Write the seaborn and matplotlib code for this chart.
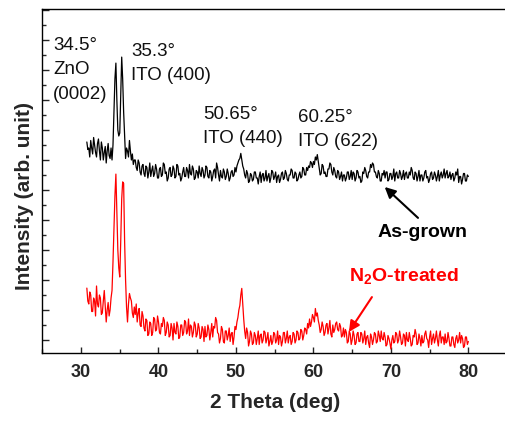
import numpy as np
import pandas as pd
import matplotlib
matplotlib.use("Agg")
import matplotlib.pyplot as plt
from matplotlib.ticker import MultipleLocator
import seaborn as sns

# 2-theta scan grid (deg) and intensities (arb. counts)
two_theta = np.arange(30.75, 80.001, 0.125)

as_grown = [
    660, 635,
    640, 610, 665, 640, 620, 675, 650, 625,   # 31
    610, 655, 670, 630, 600, 660, 640, 600,   # 32
    625, 645, 590, 630, 655, 615, 605, 640,   # 33
    600, 650, 760, 870, 923, 800, 700, 680,   # 34
    690, 820, 943, 870, 760, 680, 605, 640,   # 35
    630, 610, 665, 630, 600, 620, 585, 600,   # 36
    600, 575, 565, 600, 590, 560, 550, 580,   # 37
    585, 555, 545, 580, 575, 540, 560, 590,   # 38
    545, 565, 580, 545, 555, 585, 570, 540,   # 39
    540, 570, 575, 545, 550, 590, 585, 555,   # 40
    560, 530, 540, 570, 575, 545, 550, 580,   # 41
    570, 540, 545, 585, 580, 550, 555, 530,   # 42
    540, 560, 575, 545, 545, 575, 565, 540,   # 43
    585, 555, 550, 580, 570, 535, 540, 565,   # 44
    560, 540, 580, 555, 545, 575, 565, 540,   # 45
    550, 580, 575, 545, 540, 565, 560, 530,   # 46
    545, 565, 570, 540, 590, 575, 550, 530,   # 47
    565, 545, 540, 570, 560, 535, 545, 570,   # 48
    555, 530, 540, 560, 565, 545, 550, 575,   # 49
    560, 580, 590, 600, 605, 622, 600, 580,   # 50
    570, 550, 540, 565, 555, 525, 530, 555,   # 51
    550, 530, 535, 560, 560, 540, 540, 520,   # 52
    545, 560, 525, 550, 555, 530, 540, 565,   # 53
    530, 545, 555, 525, 540, 565, 560, 535,   # 54
    545, 560, 525, 545, 550, 525, 535, 555,   # 55
    560, 535, 540, 565, 555, 535, 530, 550,   # 56
    550, 570, 565, 540, 540, 560, 555, 530,   # 57
    535, 550, 560, 540, 545, 575, 570, 550,   # 58
    550, 575, 565, 580, 575, 595, 590, 575,   # 59
    595, 585, 610, 600, 618, 595, 570, 550,   # 60
    555, 585, 580, 555, 560, 545, 545, 570,   # 61
    570, 590, 585, 560, 550, 575, 565, 545,   # 62
    540, 565, 560, 535, 545, 560, 530, 550,   # 63
    550, 530, 540, 560, 560, 535, 545, 565,   # 64
    535, 560, 555, 530, 540, 565, 560, 540,   # 65
    545, 525, 530, 560, 555, 575, 565, 545,   # 66
    540, 560, 560, 585, 575, 590, 585, 560,   # 67
    560, 545, 540, 565, 555, 530, 530, 555,   # 68
    550, 565, 540, 560, 560, 530, 535, 555,   # 69
    555, 535, 545, 570, 530, 555, 560, 540,   # 70
    540, 565, 555, 535, 545, 565, 535, 555,   # 71
    560, 540, 540, 560, 550, 575, 565, 540,   # 72
    535, 560, 555, 530, 545, 565, 530, 550,   # 73
    550, 530, 540, 560, 565, 540, 545, 525,   # 74
    535, 555, 560, 535, 540, 560, 550, 530,   # 75
    545, 565, 530, 550, 560, 540, 550, 570,   # 76
    540, 555, 565, 540, 545, 560, 535, 550,   # 77
    555, 530, 540, 560, 550, 570, 525, 545,   # 78
    545, 520, 535, 555, 555, 530, 530, 550,   # 79
    545,
]

n2o_treated = [
    173, 130,
    120, 160, 150, 95, 95, 140, 130, 80,      # 31
    180, 120, 110, 150, 140, 85, 90, 130,     # 32
    165, 110, 60, 100, 125, 80, 100, 140,     # 33
    165, 260, 370, 480, 553, 420, 300, 240,   # 34
    210, 330, 470, 527, 522, 330, 200, 110,   # 35
    60, 120, 155, 140, 130, 90, 75, 110,      # 36
    85, 120, 60, 90, 105, 50, 45, 95,         # 37
    80, 40, 30, 70, 65, 15, 20, 60,           # 38
    55, 15, 25, 75, 70, 30, 35, 80,           # 39
    60, 25, 20, 55, 45, 75, 65, 15,           # 40
    25, 60, 50, 10, 15, 55, 40, 0,            # 41
    55, 25, 20, 60, 45, 5, 10, 50,            # 42
    50, 15, 25, 65, 60, 20, 30, 70,           # 43
    15, 50, 45, 10, 25, 60, 50, 10,           # 44
    20, 55, 40, 5, 10, 45, 35, -5,            # 45
    45, 10, 15, 50, 35, 0, 25, 55,            # 46
    10, 45, 40, 75, 65, 25, 20, -10,          # 47
    5, 45, 35, -5, -10, 30, 30, 0,            # 48
    15, 40, -5, 20, 25, -15, 10, 45,          # 49
    35, 60, 75, 100, 115, 150, 172, 120,      # 50
    70, 30, 5, 40, 25, -20, -5, 30,           # 51
    20, -15, -10, 25, 15, -15, 5, 30,         # 52
    -15, 15, 20, -10, 0, 30, 25, -10,         # 53
    5, 25, -20, -5, 15, -15, -5, 25,          # 54
    20, -10, 0, 30, -15, 15, 10, -20,         # 55
    -5, 25, 25, -10, 5, 30, -10, 10,          # 56
    15, -15, -5, 25, 20, -10, 0, 30,          # 57
    25, 0, 5, 35, 30, 0, 15, 40,              # 58
    35, 20, 55, 40, 70, 45, 60, 85,           # 59
    75, 60, 105, 80, 90, 65, 50, 25,          # 60
    35, 60, 45, 15, 25, 50, 55, 20,           # 61
    40, 65, 20, 10, 50, 25, 35, 55,           # 62
    60, 35, 30, 55, 45, 10, 15, 40,           # 63
    10, 35, 25, -10, -5, 30, 20, -15,         # 64
    0, 30, 15, -15, -10, 20, 25, -5,          # 65
    -5, 25, 20, -10, 5, 30, -15, 10,          # 66
    15, -10, -25, 20, 10, -15, 0, 25,         # 67
    20, -10, -5, 30, 15, -5, 30, 5,           # 68
    0, 25, 10, -20, -15, 15, 5, -10,          # 69
    -30, 0, 15, -10, -5, 25, 20, -10,         # 70
    0, 30, 10, -15, -10, 20, 15, -20,         # 71
    25, 0, -5, 25, 5, -20, -15, 15,           # 72
    10, 35, 20, -15, -10, 20, 5, -20,         # 73
    15, -10, -5, 20, 30, 5, 0, -25,           # 74
    10, 30, -15, 5, 20, -10, 5, 30,           # 75
    0, -20, 15, 30, -10, 10, 10, -15,         # 76
    20, -10, -5, 25, 5, -20, -20, 10,         # 77
    10, -15, -25, 5, 15, -10, 0, 25,          # 78
    -10, 15, 5, -25, -20, 10, 10, -15,        # 79
    -5,
]

x_major = [30, 40, 50, 60, 70, 80]

sns.set_style("ticks")
plt.rcParams["font.family"] = ["Liberation Sans", "DejaVu Sans"]
plt.rcParams["mathtext.fontset"] = "custom"
plt.rcParams["mathtext.rm"] = "Liberation Sans"
plt.rcParams["mathtext.bf"] = "Liberation Sans:bold"

df = pd.DataFrame({
    "two_theta": np.concatenate([two_theta, two_theta]),
    "intensity": np.concatenate([as_grown, n2o_treated]),
    "sample": ["As-grown"] * len(two_theta) + ["N2O-treated"] * len(two_theta),
})

W, H = 505, 421
fig = plt.figure(figsize=(W / 100, H / 100), dpi=100)
ax = fig.add_axes([42.3 / W, (H - 352.5) / H, (W - 42.3) / W, (352.5 - 9) / H])

sns.lineplot(data=df, x="two_theta", y="intensity", hue="sample",
             palette={"As-grown": "black", "N2O-treated": "#ff0000"},
             linewidth=0.9, legend=False, ax=ax, estimator=None)

ax.set_xlim(25, 84.73)
ax.set_ylim(-41.7, 1103.3)
ax.set_xticks(x_major)
ax.xaxis.set_minor_locator(MultipleLocator(5))
ax.yaxis.set_major_locator(MultipleLocator(100))
ax.yaxis.set_minor_locator(MultipleLocator(50))
ax.set_yticklabels([])

ax.tick_params(axis="x", which="major", direction="in", length=4, width=1, pad=8,
               labelsize=13)
ax.tick_params(axis="x", which="minor", direction="in", length=3, width=1)
ax.tick_params(axis="y", which="major", direction="in", length=5, width=1, left=True)
ax.tick_params(axis="y", which="minor", direction="in", length=3, width=1, left=True)
for lab in ax.get_xticklabels():
    lab.set_fontweight("bold")

for side in ["left", "bottom", "top"]:
    ax.spines[side].set_linewidth(1.0)
    ax.spines[side].set_color("black")
ax.spines["right"].set_visible(False)

ax.set_xlabel("2 Theta (deg)", fontsize=15, fontweight="bold")
ax.set_ylabel("Intensity (arb. unit)", fontsize=15, fontweight="bold")
ax.xaxis.set_label_coords(0.503, -0.147)
ax.xaxis.label.set_va("center")
ax.yaxis.set_label_coords(-0.0374, 0.4556)
ax.yaxis.label.set_va("center")

# peak assignments
peak_txt = [
    (26.38, 980, "34.5°"), (26.38, 900, "ZnO"), (26.38, 817, "(0002)"),
    (36.45, 960, "35.3°"), (36.45, 880, "ITO (400)"),
    (45.74, 750, "50.65°"), (45.74, 673, "ITO (440)"),
    (58.0, 743, "60.25°"), (58.0, 660, "ITO (622)"),
]
for x, y, s in peak_txt:
    ax.text(x, y, s, fontsize=13.5, ha="left", va="center", color="#111111")

# sample labels with arrows
ax.annotate("", xy=(69.2, 510), xytext=(73.5, 407),
            arrowprops=dict(arrowstyle="-|>", color="black", lw=1.5,
                            mutation_scale=16, shrinkA=0, shrinkB=0))
ax.text(74.12, 357, "As-grown", fontsize=14, fontweight="bold", ha="center",
        va="center", color="black")

ax.annotate("", xy=(64.58, 27), xytext=(67.55, 143),
            arrowprops=dict(arrowstyle="-|>", color="#ff0000", lw=1.5,
                            mutation_scale=16, shrinkA=0, shrinkB=0))
ax.text(71.62, 210, r"N$_{\mathbf{2}}$O-treated", fontsize=14, fontweight="bold",
        ha="center", va="center", color="#ff0000")

fig.savefig("out.png", dpi=100)
